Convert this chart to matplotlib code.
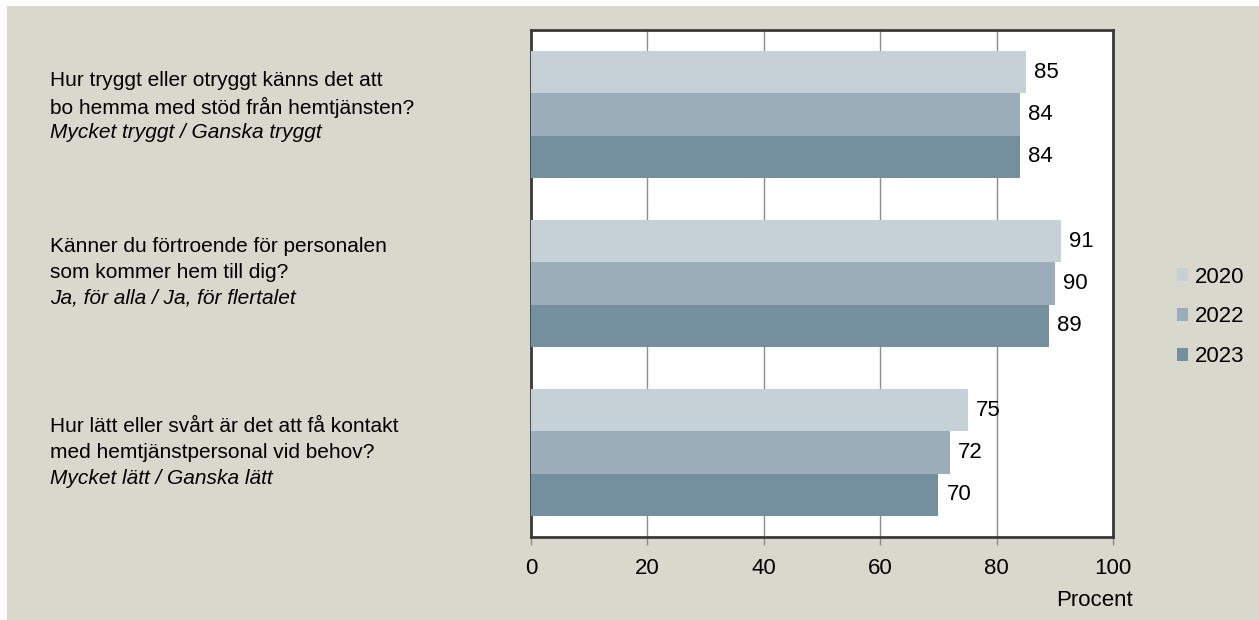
import matplotlib
matplotlib.use("Agg")
import matplotlib.pyplot as plt
import numpy as np
from matplotlib.patches import Rectangle

plt.rcParams['font.family'] = ['Liberation Sans', 'DejaVu Sans']

questions = [
    ["Hur tryggt eller otryggt känns det att", "bo hemma med stöd från hemtjänsten?", "Mycket tryggt / Ganska tryggt"],
    ["Känner du förtroende för personalen", "som kommer hem till dig?", "Ja, för alla / Ja, för flertalet"],
    ["Hur lätt eller svårt är det att få kontakt", "med hemtjänstpersonal vid behov?", "Mycket lätt / Ganska lätt"],
]
years = ["2020", "2022", "2023"]
values = {
    "2020": [85, 91, 75],
    "2022": [84, 90, 72],
    "2023": [84, 89, 70],
}
colors = ["#c5d0d7", "#9aadb8", "#74909e"]
xticks = [0, 20, 40, 60, 80, 100]

W, H = 1259, 620
fig = plt.figure(figsize=(W / 100, H / 100), dpi=100, facecolor="white")
bg = "#d9d8cc"
fig.patches.append(Rectangle((7 / W, 0), 1 - 7 / W, 1 - 6 / H, transform=fig.transFigure,
                             facecolor=bg, edgecolor="none", zorder=-10))

ax = fig.add_axes([531 / W, 83 / H, (1113 - 531) / W, (537 - 30) / H])
ax.set_facecolor("white")

fs = 16
n = len(questions)
ypos = np.arange(n)
bh = 0.25
for i, (yr, c) in enumerate(zip(years, colors)):
    bars = ax.barh(ypos + (i - 1) * bh, values[yr], height=bh, color=c, label=yr, zorder=3)
    ax.bar_label(bars, labels=[str(v) for v in values[yr]], padding=6, fontsize=fs, color="black")

ax.set_ylim(n - 0.5, -0.5)
ax.set_xlim(0, 100)
ax.set_yticks([])
ax.set_xticks(xticks)
ax.set_xticklabels([str(t) for t in xticks], fontsize=fs)
ax.tick_params(axis="x", length=6, width=1, color="#8c8c8c", pad=9)
ax.xaxis.grid(True, color="#8c8c8c", linewidth=1, zorder=0)
ax.set_axisbelow(True)
for s in ax.spines.values():
    s.set_color("#3a3a3a")
    s.set_linewidth(2)

fig.text(1133 / W, 1 - 600 / H, "Procent", fontsize=fs, ha="right", va="center")

# question labels
starts = [81, 246, 427]
for q, y0 in zip(questions, starts):
    for k, line in enumerate(q):
        fig.text(50 / W, 1 - (y0 + k * 26) / H, line, fontsize=15, ha="left", va="center",
                 style="italic" if k == 2 else "normal")

leg = ax.legend(loc="center left", bbox_to_anchor=(1177 / W, 1 - 317 / H), bbox_transform=fig.transFigure,
                frameon=False, fontsize=fs, handlelength=0.5, handleheight=0.5, labelspacing=0.85,
                handletextpad=0.3, borderpad=0, borderaxespad=0)

fig.savefig("out.png", dpi=100, facecolor=fig.get_facecolor())
